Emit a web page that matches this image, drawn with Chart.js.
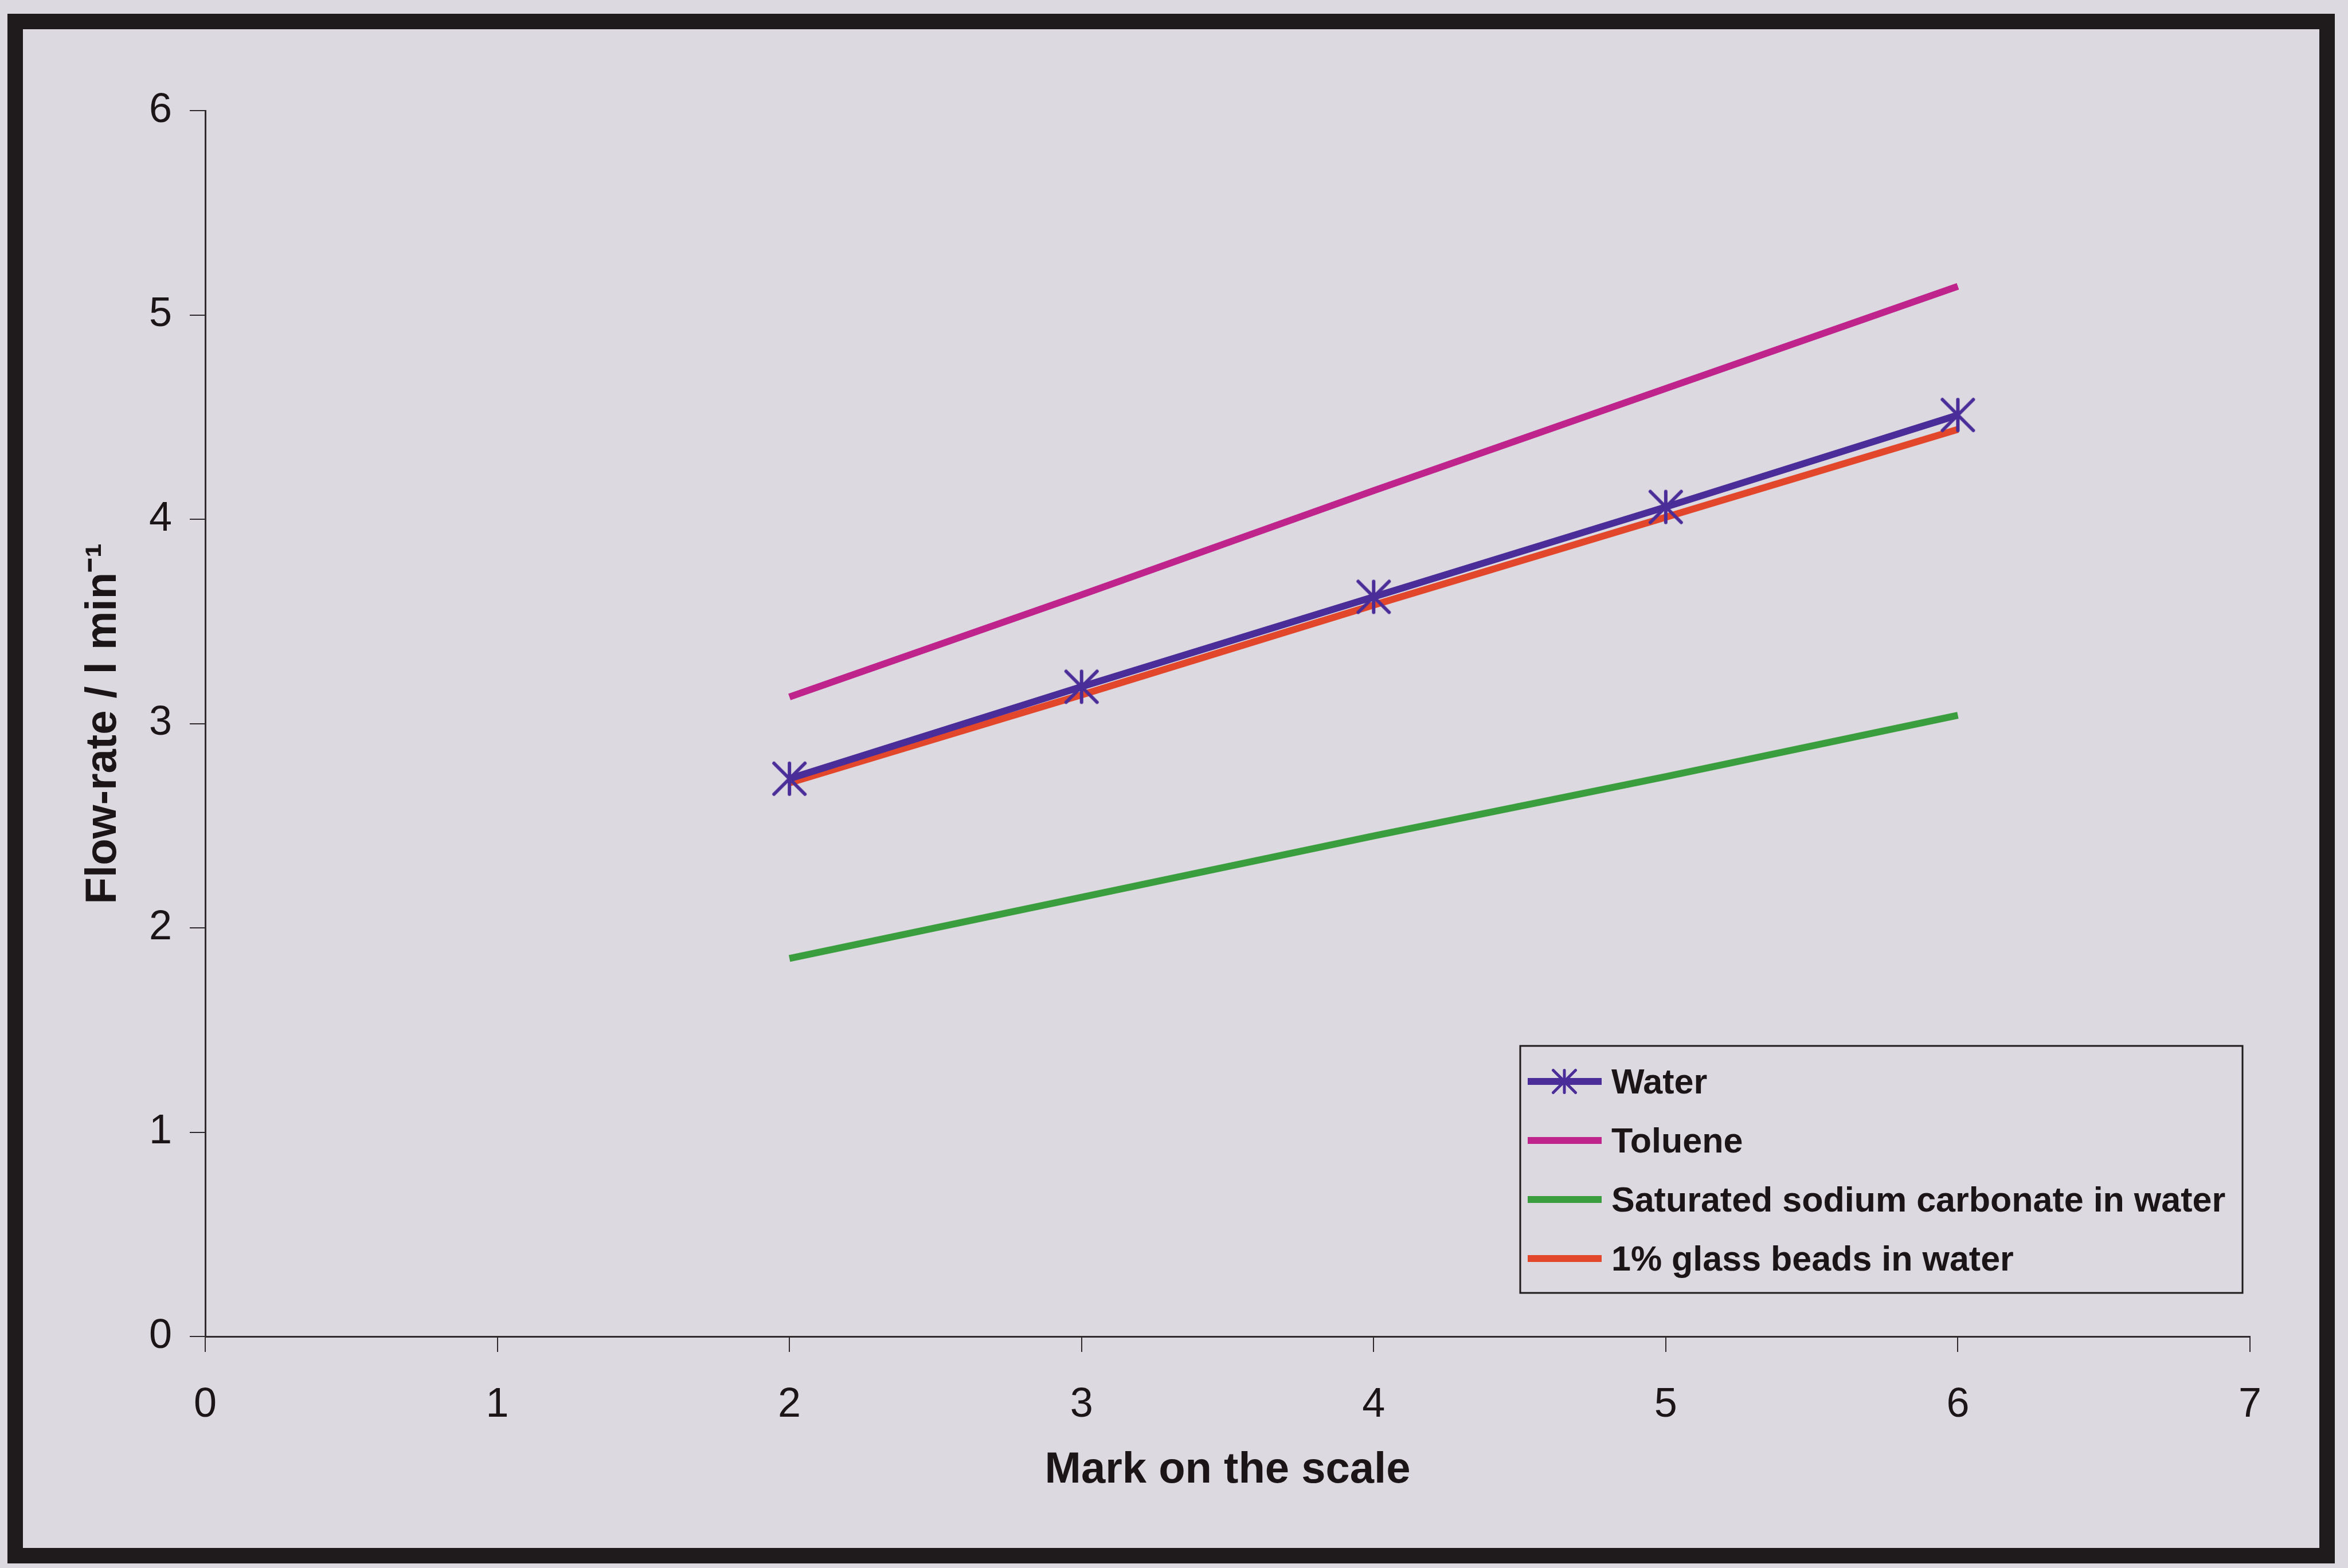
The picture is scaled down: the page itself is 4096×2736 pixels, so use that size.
<!DOCTYPE html>
<html>
<head>
<meta charset="utf-8">
<title>Flow-rate vs mark on the scale</title>
<script src="https://cdn.jsdelivr.net/npm/chart.js@4.4.0/dist/chart.umd.min.js"></script>
<style>
  html, body { margin: 0; padding: 0; background: #dcd9e0; overflow: hidden; }
  #wrap { position: relative; width: 4096px; height: 2736px; }
  #chart { position: absolute; left: 0; top: 0; width: 4096px; height: 2736px; }
  #frame {
    position: absolute; left: 13px; top: 24px; width: 4060px; height: 2704px;
    box-sizing: border-box; border: 27px solid #1f1a1c; pointer-events: none;
  }
</style>
</head>
<body>
<div id="wrap">
  <canvas id="chart" width="4096" height="2736"></canvas>
  <div id="frame"></div>
</div>
<script>
// values
var marks = [2, 3, 4, 5, 6];
var water = [2.73, 3.18, 3.62, 4.06, 4.51];
var toluene = [3.13, 3.63, 4.14, 4.64, 5.14];
var sodiumCarbonate = [1.85, 2.15, 2.45, 2.74, 3.04];
var glassBeads = [2.71, 3.14, 3.58, 4.01, 4.44];

var seriesNames = ['Water', 'Toluene', 'Saturated sodium carbonate in water', '1% glass beads in water'];
var xTicks = [0, 1, 2, 3, 4, 5, 6, 7];
var yTicks = [0, 1, 2, 3, 4, 5, 6];

var pageColor = '#dcd9e0';
var ink = '#1c1517';
var axisColor = '#302a2e';
var fontFamily = '"Liberation Sans", Arial, sans-serif';

// excel style asterisk marker: an X with a vertical stroke
function makeStar(size, lineW, color) {
  var c = document.createElement('canvas');
  c.width = size;
  c.height = size;
  var g = c.getContext('2d');
  var m = lineW / 2 + 1;
  g.strokeStyle = color;
  g.lineWidth = lineW;
  g.lineCap = 'round';
  g.beginPath();
  g.moveTo(m, m); g.lineTo(size - m, size - m);
  g.moveTo(size - m, m); g.lineTo(m, size - m);
  g.moveTo(size / 2, m); g.lineTo(size / 2, size - m);
  g.stroke();
  return c;
}

function toPoints(values) {
  return marks.map(function(m, i) { return {x: m, y: values[i]}; });
}

var waterColor = '#4a2d98';
var starMark = makeStar(62, 6, waterColor);
var legendStar = makeStar(46, 5, waterColor);

var boxLegend = {
  id: 'boxLegend',
  afterDatasetsDraw: function(chart, args, opts) {
    var ctx = chart.ctx;
    ctx.save();
    ctx.fillStyle = pageColor;
    ctx.fillRect(opts.x, opts.y, opts.w, opts.h);
    ctx.lineWidth = 3;
    ctx.strokeStyle = '#1f1a1c';
    ctx.strokeRect(opts.x, opts.y, opts.w, opts.h);
    ctx.font = 'bold 61px ' + fontFamily;
    ctx.textBaseline = 'middle';
    ctx.textAlign = 'left';
    chart.data.datasets.forEach(function(ds, i) {
      var y = opts.y + opts.firstRow + i * opts.rowGap;
      ctx.strokeStyle = ds.borderColor;
      ctx.lineWidth = ds.borderWidth;
      ctx.beginPath();
      ctx.moveTo(opts.x + 13, y);
      ctx.lineTo(opts.x + 142, y);
      ctx.stroke();
      if (ds.pointRadius > 0) {
        ctx.drawImage(legendStar, opts.x + 77 - legendStar.width / 2, y - legendStar.height / 2);
      }
      ctx.fillStyle = ink;
      ctx.fillText(ds.label, opts.x + 159, y + 4);
    });
    ctx.restore();
  }
};

new Chart(document.getElementById('chart'), {
  type: 'line',
  data: {
    datasets: [
      {
        label: seriesNames[0], data: toPoints(water),
        borderColor: waterColor, backgroundColor: waterColor, borderWidth: 12,
        pointStyle: starMark, pointRadius: 31, order: 0
      },
      {
        label: seriesNames[1], data: toPoints(toluene),
        borderColor: '#be248b', backgroundColor: '#be248b', borderWidth: 12,
        pointRadius: 0, order: 3
      },
      {
        label: seriesNames[2], data: toPoints(sodiumCarbonate),
        borderColor: '#3b9e3e', backgroundColor: '#3b9e3e', borderWidth: 12,
        pointRadius: 0, order: 2
      },
      {
        label: seriesNames[3], data: toPoints(glassBeads),
        borderColor: '#e2472b', backgroundColor: '#e2472b', borderWidth: 12,
        pointRadius: 0, order: 1
      }
    ]
  },
  options: {
    responsive: false,
    animation: false,
    devicePixelRatio: 1,
    layout: { padding: { top: 193, right: 171, left: 0, bottom: 0 } },
    elements: { line: { tension: 0, borderCapStyle: 'butt' } },
    scales: {
      x: {
        type: 'linear',
        min: xTicks[0],
        max: xTicks[xTicks.length - 1],
        afterBuildTicks: function(scale) { scale.ticks = xTicks.map(function(v) { return {value: v}; }); },
        ticks: { color: ink, font: { family: fontFamily, size: 72 }, padding: 50 },
        grid: { drawOnChartArea: false, drawTicks: true, tickLength: 27, color: axisColor, lineWidth: 2 },
        border: { display: true, color: axisColor, width: 3 },
        title: {
          display: true, text: 'Mark on the scale', color: ink,
          font: { family: fontFamily, size: 76, weight: 'bold' },
          padding: { top: 0, bottom: 124 }
        },
        afterFit: function(scale) { scale.height = 404; }
      },
      y: {
        min: yTicks[0],
        max: yTicks[yTicks.length - 1],
        afterBuildTicks: function(scale) { scale.ticks = yTicks.map(function(v) { return {value: v}; }); },
        ticks: { color: ink, font: { family: fontFamily, size: 72 }, padding: 31 },
        grid: { drawOnChartArea: false, drawTicks: true, tickLength: 27, color: axisColor, lineWidth: 2 },
        border: { display: true, color: axisColor, width: 3 },
        title: {
          display: true, text: 'Flow-rate / l min\u207B\u00B9', color: ink,
          font: { family: fontFamily, size: 76, weight: 'bold' },
          padding: { top: 135, bottom: 0 }
        },
        afterFit: function(scale) { scale.width = 358; }
      }
    },
    plugins: {
      legend: { display: false },
      tooltip: { enabled: false },
      boxLegend: { x: 2652, y: 1825, w: 1260, h: 431, firstRow: 62, rowGap: 103 }
    }
  },
  plugins: [boxLegend]
});
</script>
</body>
</html>
